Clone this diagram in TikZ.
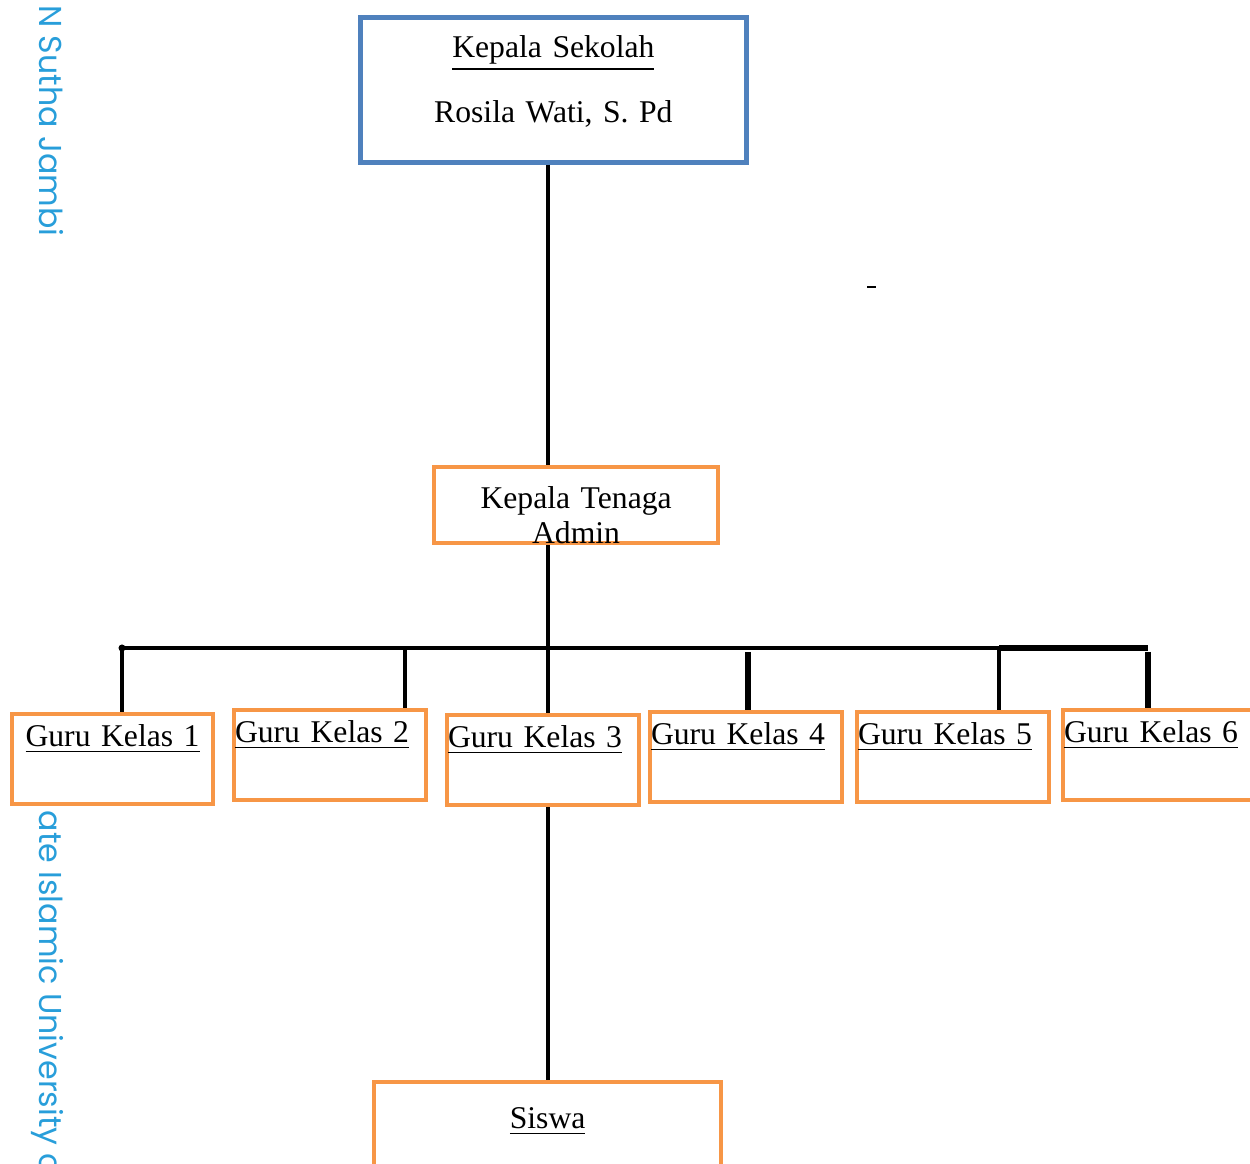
\documentclass[tikz,border=0pt]{standalone}
\usepackage{fontspec}
\setmainfont{Liberation Serif}
\newfontfamily\wmfont{Poppins}
\usepackage{tikz}

\definecolor{boxblue}{RGB}{79,129,189}
\definecolor{boxorange}{RGB}{247,150,70}
\definecolor{wmblue}{RGB}{40,158,218}

\tikzset{
  orgbox/.style={rectangle, draw=boxorange, line width=1.15pt, fill=white, anchor=north west, inner sep=0pt, align=center},
  guru/.style={orgbox, inner xsep=0.01cm, text width=1.90cm, align=left, text height=0.32cm, text depth=0.58cm},
  link/.style={line width=1.05pt},
  watermark/.style={rotate=-90, inner sep=0pt, text=wmblue, font=\wmfont\fontsize{9}{11}\selectfont}
}

\begin{document}
\begin{tikzpicture}[x=0.01cm, y=-0.01cm, font=\fontsize{9}{10}\selectfont]
  \useasboundingbox (0,0) rectangle (1250,1164);

  \node (wm1) [watermark, anchor=base east] at (39,237) {N Sutha Jambi};
  \node (wm2) [watermark, anchor=base west] at (39,810) {ate Islamic University o};

  \node (kepsek) [orgbox, draw=boxblue, line width=1.3pt, text width=3.86cm, text height=0.40cm, text depth=1.05cm] at (358,15)
    {\underline{Kepala Sekolah}\\[7.3pt]Rosila Wati, S. Pd};
  \node (admin) [orgbox, text width=2.84cm, text height=0.41cm, text depth=0.35cm] at (432,465) {Kepala Tenaga\\Admin};

  \node (guru1) [guru, text width=1.99cm, align=center] at (10,712) {\underline{Guru Kelas 1}};
  \node (guru2) [guru] at (232,708) {\underline{Guru Kelas 2}};
  \node (guru3) [guru] at (445,713) {\underline{Guru Kelas 3}};
  \node (guru4) [guru] at (648,710) {\underline{Guru Kelas 4}};
  \node (guru5) [guru] at (855,710) {\underline{Guru Kelas 5}};
  \node (guru6) [guru] at (1061,708) {\underline{Guru Kelas 6}};

  \node (siswa) [orgbox, text width=3.47cm, text height=0.46cm, text depth=0.80cm] at (372,1080) {\underline{Siswa}};

  \coordinate (t1) at (122,648);
  \coordinate (t2) at (405,648);
  \coordinate (t3) at (548,648);
  \coordinate (t4) at (748,648);
  \coordinate (t5) at (999,648);
  \coordinate (t6) at (1148,648);
  \coordinate (mark) at (867,287);

  \draw[link] (kepsek.south -| t3) -- (admin.north -| t3);
  \draw[link] (admin.south -| t3) -- (t3);
  \draw[link] (t1) -- (t6);
  \draw[line width=1.7pt] (t5) -- (t6);
  \fill (t1) circle (0.035cm);
  \draw[link] (t1) -- (t1 |- guru1.north);
  \draw[link] (t2) -- (t2 |- guru2.north);
  \draw[link] (t3) -- (t3 |- guru3.north);
  \draw[line width=1.7pt] ([yshift=-0.04cm]t4) -- (t4 |- guru4.north);
  \draw[link] (t5) -- (t5 |- guru5.north);
  \draw[line width=1.7pt] ([yshift=-0.04cm]t6) -- (t6 |- guru6.north);
  \draw[link] (guru3.south -| t3) -- (siswa.north -| t3);
  \draw[line width=0.6pt] (mark) -- ++(9,0);
\end{tikzpicture}
\end{document}
